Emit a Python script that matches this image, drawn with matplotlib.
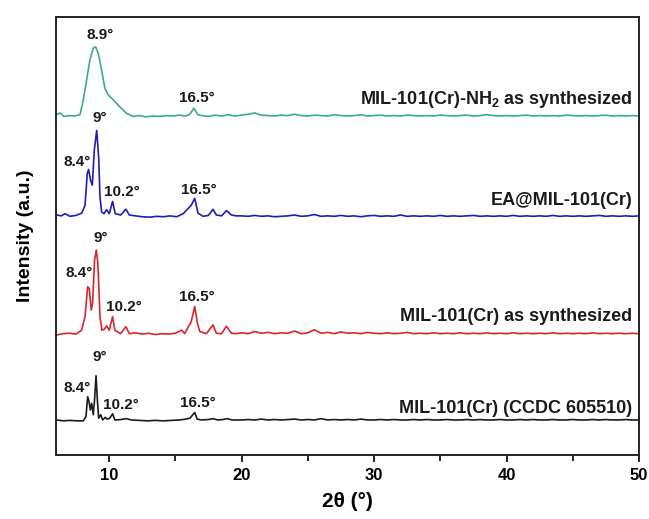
import matplotlib
matplotlib.use("Agg")
import matplotlib.pyplot as plt
from matplotlib.ticker import MultipleLocator

plt.rcParams['font.family'] = ['Liberation Sans', 'DejaVu Sans']
plt.rcParams['mathtext.fontset'] = 'custom'
plt.rcParams['mathtext.rm'] = 'Liberation Sans:bold'
plt.rcParams['mathtext.bf'] = 'Liberation Sans:bold'

# ---------------- data ----------------
series_names = ["MIL-101(Cr) (CCDC 605510)", "MIL-101(Cr) as synthesized",
                "EA@MIL-101(Cr)", "MIL-101(Cr)-NH$_2$ as synthesized"]
offsets = [7.8, 27.4, 54.3, 77.2]

tail_x = [20.0, 20.5, 21.0, 21.5, 22.0, 22.5, 23.0, 23.5, 24.0, 24.5,
          25.0, 25.5, 26.0, 26.5, 27.0, 27.5, 28.0, 28.5, 29.0, 29.5,
          30.0, 30.5, 31.0, 31.5, 32.0, 32.5, 33.0, 33.5, 34.0, 34.5,
          35.0, 35.5, 36.0, 36.5, 37.0, 37.5, 38.0, 38.5, 39.0, 39.5,
          40.0, 40.5, 41.0, 41.5, 42.0, 42.5, 43.0, 43.5, 44.0, 44.5,
          45.0, 45.5, 46.0, 46.5, 47.0, 47.5, 48.0, 48.5, 49.0, 49.5,
          50.0]

# black: CCDC simulated
k_x = [6.05, 6.55, 7.05, 7.6, 8.06, 8.26, 8.39, 8.49, 8.59, 8.69,
       8.81, 8.91, 9.02, 9.12, 9.22, 9.37, 9.52, 9.72, 9.87, 10.05,
       10.27, 10.44, 10.9, 11.3, 11.7, 12.3, 12.9, 13.5, 14.1, 14.7,
       15.3, 15.6, 16.1, 16.47, 16.65, 17.0, 17.5, 17.85, 18.2, 18.6,
       18.9, 19.3, 19.6]
k_y = [0.2, 0.0, 0.1, 0.0, 0.0, 1.0, 5.5, 4.4, 2.5, 4.0,
       1.4, 4.8, 10.3, 4.8, 0.6, 1.4, 0.2, 0.8, 0.4, 0.6,
       1.6, 0.2, 0.3, 0.5, 0.2, 0.1, 0.0, 0.1, 0.0, 0.1,
       0.2, 0.3, 0.6, 1.9, 0.4, 0.2, 0.3, 0.5, 0.2, 0.3,
       0.5, 0.2, 0.2]
k_tail = [0.2, 0.3, 0.2, 0.4, 0.2, 0.3, 0.2, 0.3, 0.4, 0.2,
          0.3, 0.2, 0.5, 0.2, 0.3, 0.2, 0.3, 0.2, 0.4, 0.2,
          0.2, 0.3, 0.2, 0.3, 0.2, 0.2, 0.3, 0.2, 0.3, 0.2,
          0.2, 0.3, 0.2, 0.2, 0.3, 0.2, 0.3, 0.2, 0.2, 0.3,
          0.2, 0.2, 0.3, 0.2, 0.3, 0.2, 0.2, 0.3, 0.2, 0.2,
          0.3, 0.2, 0.2, 0.3, 0.2, 0.3, 0.2, 0.2, 0.3, 0.2,
          0.2]

# red: MIL-101(Cr) as synthesized
r_x = [6.05, 6.5, 7.05, 7.5, 7.93, 8.19, 8.39, 8.51, 8.66, 8.76,
       8.91, 9.04, 9.16, 9.32, 9.46, 9.64, 9.82, 10.02, 10.27, 10.44,
       10.87, 11.28, 11.53, 12.0, 12.5, 13.0, 13.5, 14.0, 14.5, 15.0,
       15.5, 15.7, 16.2, 16.47, 16.67, 16.85, 17.35, 17.85, 18.1, 18.5,
       18.86, 19.24, 19.6]
r_y = [0.0, 0.3, 0.4, 0.2, 1.1, 4.2, 11.0, 10.6, 5.7, 7.2,
       17.1, 19.4, 16.3, 4.2, 1.1, 1.3, 2.1, 1.1, 4.2, 1.1,
       0.3, 1.9, 0.3, 0.5, 0.2, 0.4, 0.1, 0.3, 0.2, 0.4,
       1.1, 0.3, 3.0, 6.5, 2.7, 0.8, 0.3, 2.3, 0.4, 0.3,
       2.0, 0.4, 0.3]
r_tail = [0.5, 0.3, 0.8, 0.4, 0.6, 0.3, 0.5, 0.4, 0.9, 0.3,
          0.5, 1.2, 0.4, 0.6, 0.3, 0.7, 0.4, 0.5, 0.3, 0.6,
          0.4, 0.3, 0.5, 0.3, 0.4, 0.6, 0.3, 0.4, 0.3, 0.5,
          0.3, 0.4, 0.3, 0.5, 0.3, 0.4, 0.3, 0.5, 0.3, 0.4,
          0.3, 0.5, 0.3, 0.4, 0.3, 0.4, 0.3, 0.5, 0.3, 0.4,
          0.3, 0.4, 0.3, 0.5, 0.3, 0.4, 0.3, 0.4, 0.3, 0.4,
          0.3]

# blue: EA@MIL-101(Cr)
b_x = [6.05, 6.4, 6.68, 7.05, 7.5, 7.93, 8.19, 8.36, 8.46, 8.61,
       8.74, 8.89, 9.07, 9.22, 9.32, 9.44, 9.62, 9.82, 10.02, 10.27,
       10.47, 10.88, 11.28, 11.53, 12.0, 12.5, 13.1, 13.6, 14.1, 14.6,
       15.1, 15.6, 16.2, 16.47, 16.72, 17.1, 17.5, 17.85, 18.1, 18.5,
       18.86, 19.24, 19.6]
b_y = [0.5, 0.3, 0.8, 0.2, 0.4, 0.9, 2.7, 10.0, 10.9, 8.4,
       7.3, 15.3, 19.8, 13.7, 4.6, 1.2, 0.8, 1.7, 0.8, 3.6,
       0.8, 0.5, 1.8, 0.5, 0.3, 0.1, 0.0, 0.2, 0.1, 0.3,
       0.1, 0.8, 2.7, 4.3, 0.9, 0.2, 0.4, 1.8, 0.5, 0.3,
       1.5, 0.5, 0.3]
b_tail = [0.3, 0.2, 0.4, 0.2, 0.3, 0.1, 0.2, 0.3, 0.5, 0.2,
          0.3, 0.6, 0.2, 0.3, 0.2, 0.4, 0.2, 0.3, 0.1, 0.3,
          0.4, 0.2, 0.3, 0.2, 0.5, 0.2, 0.3, 0.2, 0.3, 0.2,
          0.4, 0.2, 0.3, 0.2, 0.3, 0.4, 0.2, 0.3, 0.2, 0.3,
          0.2, 0.4, 0.2, 0.3, 0.2, 0.3, 0.2, 0.4, 0.2, 0.3,
          0.2, 0.3, 0.2, 0.3, 0.4, 0.2, 0.3, 0.2, 0.3, 0.2,
          0.3]

# green: MIL-101(Cr)-NH2 as synthesized
g_x = [6.0, 6.3, 6.6, 7.0, 7.4, 7.81, 8.06, 8.31, 8.56, 8.81,
       8.99, 9.19, 9.44, 9.69, 9.94, 10.32, 10.82, 11.33, 11.83, 12.3,
       12.8, 13.3, 13.8, 14.3, 14.8, 15.3, 15.8, 16.1, 16.4, 16.7,
       17.0, 17.5, 18.0, 18.5, 19.0, 19.5]
g_y = [0.5, 0.9, 0.1, 0.3, 0.2, 0.5, 3.9, 8.4, 13.0, 15.7,
       16.0, 14.5, 10.7, 6.5, 5.0, 3.9, 2.3, 0.8, 0.1, 0.3,
       0.0, 0.2, 0.1, 0.3, 0.2, 0.4, 0.2, 0.6, 2.0, 0.5,
       0.3, 0.1, 0.4, 0.2, 0.5, 0.2]
g_tail = [0.4, 0.6, 0.9, 0.4, 0.3, 0.2, 0.4, 0.3, 0.6, 0.3,
          0.2, 0.4, 0.3, 0.2, 0.5, 0.3, 0.2, 0.3, 0.5, 0.2,
          0.3, 0.4, 0.2, 0.3, 0.2, 0.4, 0.3, 0.2, 0.3, 0.2,
          0.4, 0.3, 0.2, 0.3, 0.4, 0.2, 0.3, 0.5, 0.3, 0.2,
          0.3, 0.2, 0.3, 0.4, 0.2, 0.3, 0.2, 0.3, 0.2, 0.4,
          0.3, 0.2, 0.3, 0.2, 0.3, 0.4, 0.2, 0.3, 0.2, 0.3,
          0.2]

peak_labels = [
    [("8.4°", 7.6, 7.5), ("9°", 9.3, 14.5), ("10.2°", 10.93, 3.6), ("16.5°", 16.7, 4.1)],
    [("8.4°", 7.73, 14.1), ("9°", 9.38, 22.1), ("10.2°", 11.1, 6.5), ("16.5°", 16.6, 8.7)],
    [("8.4°", 7.6, 12.7), ("9°", 9.28, 22.6), ("10.2°", 11.0, 5.8), ("16.5°", 16.74, 6.2)],
    [("8.9°", 9.3, 18.7), ("16.5°", 16.6, 4.3)],
]
label_dy = [2.9, 4.3, 3.9, 3.9]

# ---------------- style ----------------
colors = ["#1c1c1c", "#d8262c", "#1d1db8", "#3dab80"]
xs = [k_x + tail_x, r_x + tail_x, b_x + tail_x, g_x + tail_x]
ys = [k_y + k_tail, r_y + r_tail, b_y + b_tail, g_y + g_tail]

fig = plt.figure(figsize=(6.49, 5.19), dpi=100)
ax = fig.add_axes([0.0863, 0.1233, 0.8983, 0.8439])

for i in range(4):
    yy = [v + offsets[i] for v in ys[i]]
    ax.plot(xs[i], yy, color=colors[i], lw=1.2)
    for txt, px, dy in peak_labels[i]:
        ax.text(px, offsets[i] + dy, txt, ha='center', va='center',
                fontsize=11, fontweight='bold', color='#1a1a1a')
    ax.text(49.5, offsets[i] + label_dy[i], series_names[i], ha='right',
            va='center', fontsize=13, fontweight='bold', color='#1a1a1a')

ax.set_xlim(6, 50)
ax.set_ylim(0, 100)
ax.xaxis.set_major_locator(MultipleLocator(10))
ax.xaxis.set_minor_locator(MultipleLocator(5))
ax.set_yticks([])
ax.tick_params(axis='x', which='major', direction='out', length=5, width=1.2,
               labelsize=12, pad=4)
ax.tick_params(axis='x', which='minor', direction='out', length=4, width=1.2)
for lbl in ax.get_xticklabels():
    lbl.set_fontweight('bold')
for sp in ax.spines.values():
    sp.set_linewidth(1.4)
    sp.set_color('#222222')

ax.set_xlabel("2θ (°)", fontsize=15, fontweight='bold', labelpad=7)
ax.set_ylabel("Intensity (a.u.)", fontsize=14, fontweight='bold', labelpad=16)

fig.savefig("out.png", dpi=100)
